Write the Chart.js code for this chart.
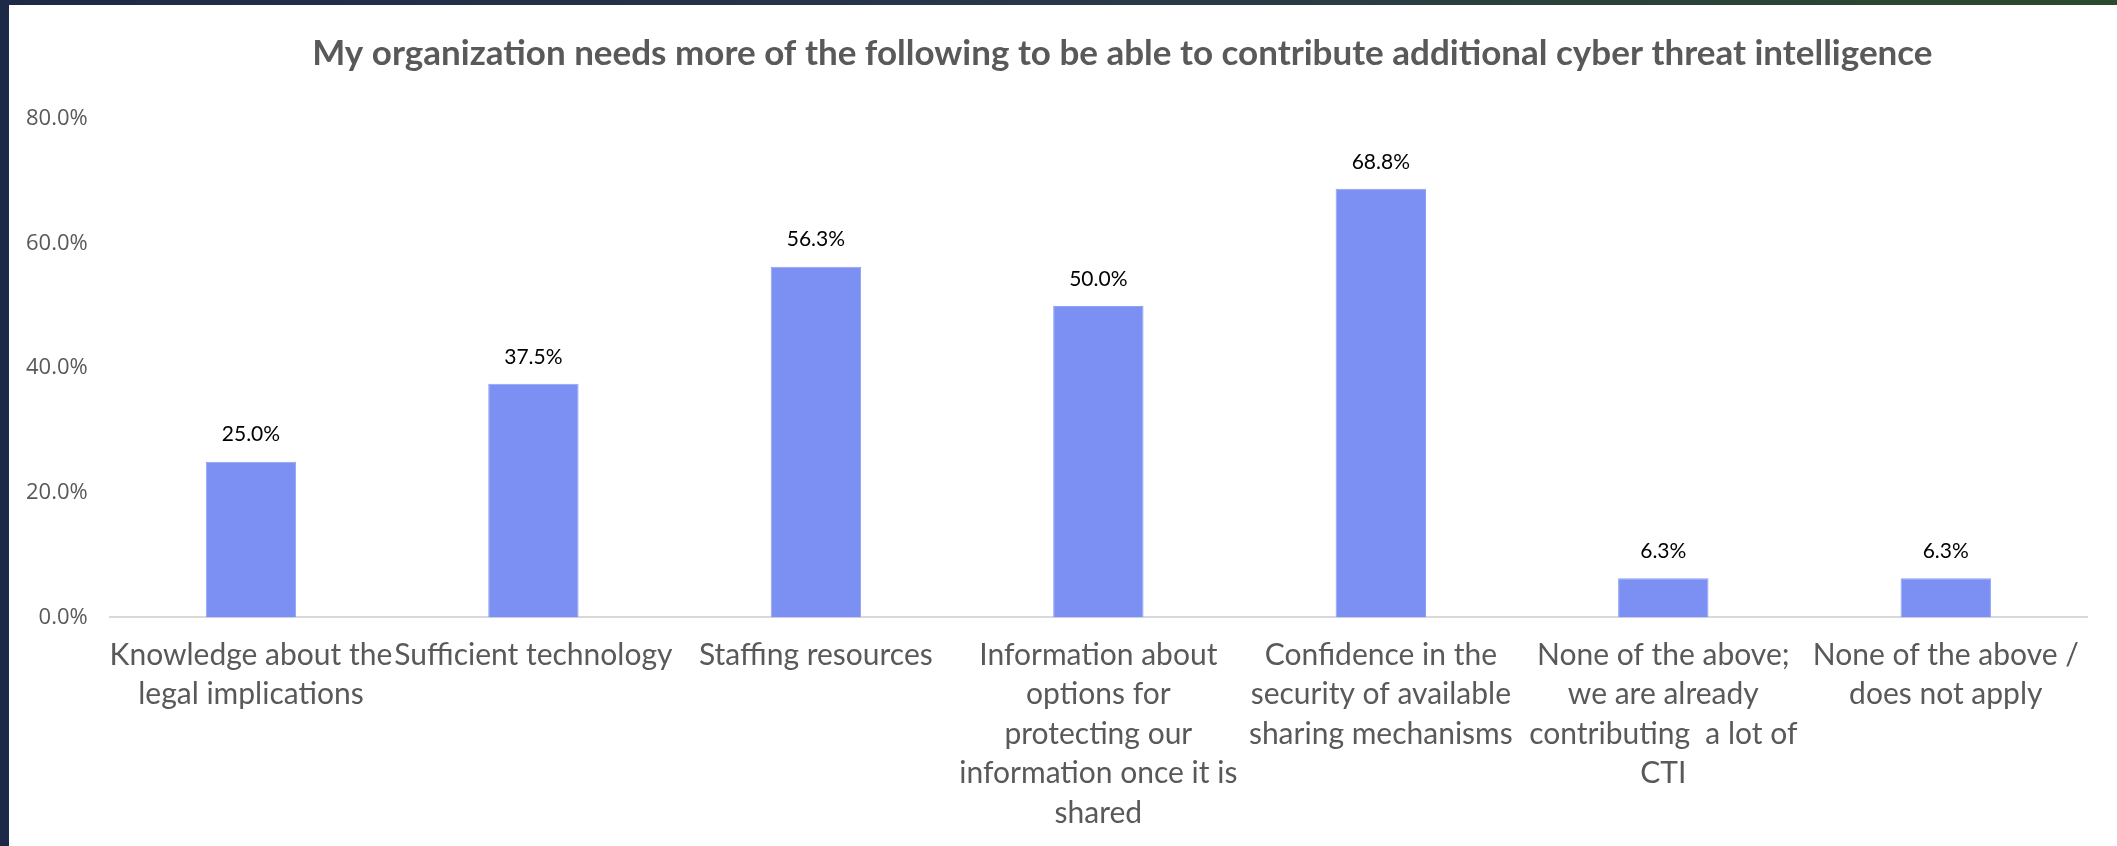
<!DOCTYPE html>
<html>
<head>
<meta charset="utf-8">
<script src="https://cdn.jsdelivr.net/npm/chart.js@4"></script>
<style>
  html, body { margin: 0; padding: 0; background: #fff; }
  body { width: 2117px; height: 846px; position: relative; overflow: hidden; }
  #leftbar { position: absolute; left: 0; top: 0; width: 9px; height: 846px; background: #1d2a47; z-index: 2; }
  #topbar { position: absolute; left: 0; top: 0; width: 2117px; height: 5px; z-index: 2;
            background: linear-gradient(90deg, #1d2a47 0%, #28384a 50%, #2c4a2c 100%); }
  #wrap { position: absolute; left: 0; top: 0; width: 2117px; height: 870px; z-index: 1; }
</style>
</head>
<body>
<div id="leftbar"></div>
<div id="topbar"></div>
<div id="wrap"><canvas id="barchart1" width="2117" height="870"></canvas></div>
<script>
// categories (wrapped like the original)
const categories = [
  ['Knowledge about the', 'legal implications'],
  ['Sufficient technology'],
  ['Staffing resources'],
  ['Information about', 'options for', 'protecting our', 'information once it is', 'shared'],
  ['Confidence in the', 'security of available', 'sharing mechanisms'],
  ['None of the above;', 'we are already', 'contributing  a lot of', 'CTI'],
  ['None of the above /', 'does not apply']
];
// percent of respondents
const values = [25.0, 37.5, 56.3, 50.0, 68.8, 6.3, 6.3];
const yTicks = [0, 20, 40, 60, 80];

// draw value labels above the bars
const barLabels = {
  id: 'barLabels',
  afterDatasetsDraw(chart) {
    const ctx = chart.ctx;
    const meta = chart.getDatasetMeta(0);
    ctx.save();
    ctx.font = '21px Lato';
    ctx.fillStyle = '#000';
    ctx.textAlign = 'center';
    ctx.textBaseline = 'middle';
    meta.data.forEach((bar, i) => {
      ctx.fillText(values[i].toFixed(1) + '%', bar.x, bar.y - 27);
    });
    ctx.restore();
  }
};

// title sits a bit right of the plot centre in the original
const titleShift = {
  id: 'titleShift',
  afterLayout(chart) {
    const t = chart.titleBlock;
    t.left += 24;
    t.right += 24;
  }
};

const data = {
  labels: categories,
  datasets: [{
    label: 'Needs',
    data: values,
    backgroundColor: '#7b90f2',
    borderColor: '#8fa1f4',
    borderWidth: 1,
    categoryPercentage: 1,
    barPercentage: 0.32
  }]
};

new Chart(document.getElementById('barchart1'), {
  type: 'bar',
  data: data,
  plugins: [barLabels, titleShift],
  options: {
    responsive: false,
    animation: false,
    devicePixelRatio: 1,
    layout: { padding: { left: 4, right: 30, top: 0, bottom: 19 } },
    plugins: {
      legend: { display: false },
      tooltip: { enabled: false },
      title: {
        display: true,
        fullSize: false,
        text: 'My organization needs more of the following to be able to contribute additional cyber threat intelligence',
        color: '#595959',
        font: { family: 'Lato', size: 35, weight: 'bold', lineHeight: 1.2 },
        padding: { top: 33, bottom: 44 }
      }
    },
    scales: {
      x: {
        grid: { display: false, drawTicks: false },
        border: { display: true, color: '#d9d9d9', width: 2 },
        ticks: {
          color: '#595959',
          font: { family: 'Lato', size: 30, lineHeight: 1.317 },
          padding: 18,
          maxRotation: 0,
          autoSkip: false
        },
        // long first/last labels should not squeeze the plot
        afterFit: axis => { axis.paddingLeft = 0; axis.paddingRight = 0; }
      },
      y: {
        min: 0,
        max: 80,
        afterBuildTicks: axis => { axis.ticks = yTicks.map(v => ({ value: v })); },
        grid: { display: false, drawTicks: false },
        border: { display: false },
        ticks: {
          color: '#595959',
          font: { family: 'Open Sans', size: 22 },
          padding: 22,
          callback: v => v.toFixed(1) + '%'
        }
      }
    }
  }
});
</script>
</body>
</html>
